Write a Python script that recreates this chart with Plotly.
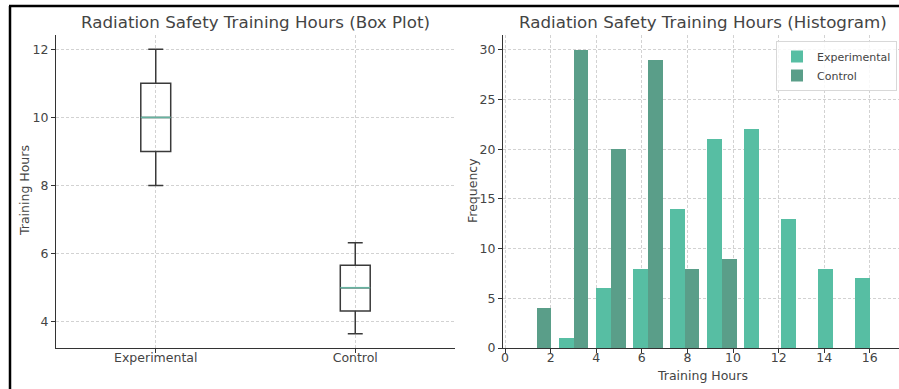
import plotly.graph_objects as go

# ---------------- data ----------------
groups = ["Experimental", "Control"]
box_lower = [8.0, 3.65]
box_q1 = [9.0, 4.32]
box_median = [10.0, 5.0]
box_q3 = [11.0, 5.66]
box_upper = [12.0, 6.32]

bin_edges = [0.57, 2.20, 3.82, 5.45, 7.07, 8.69, 10.32, 11.94, 13.56, 15.19, 16.81]
exp_counts = [0, 1, 6, 8, 14, 21, 22, 13, 8, 7]
ctrl_counts = [4, 30, 20, 29, 8, 9, 0, 0, 0, 0]

box_ticks = [4, 6, 8, 10, 12]
hist_xticks = [0, 2, 4, 6, 8, 10, 12, 14, 16]
hist_yticks = [0, 5, 10, 15, 20, 25, 30]

# ---------------- layout helpers ----------------
W, H = 899, 389
def px(x):
    return x / W
def py(y):
    return 1 - y / H

FONT = "DejaVu Sans"
TXT = "#444444"
AX = "#333333"
GRID = "#d2d2d2"
EXP_C = "#57bea3"
CTRL_C = "#5a9e89"
MED_C = "#66b3a0"
BOX_LINE = "#3a3a3a"

fig = go.Figure()

# ---- box plot (precomputed statistics) ----
positions = [1, 2]
for i, g in enumerate(groups):
    fig.add_trace(go.Box(
        x=[positions[i]], q1=[box_q1[i]], median=[box_median[i]], q3=[box_q3[i]],
        lowerfence=[box_lower[i]], upperfence=[box_upper[i]],
        width=0.15, whiskerwidth=0.5,
        line=dict(color=BOX_LINE, width=1.5), fillcolor="rgba(255,255,255,0)",
        boxpoints=False, showlegend=False, name=g, hoverinfo="skip",
        xaxis="x", yaxis="y"))
    fig.add_trace(go.Scatter(
        x=[positions[i] - 0.075, positions[i] + 0.075],
        y=[box_median[i], box_median[i]], mode="lines",
        line=dict(color=MED_C, width=1.6), showlegend=False, hoverinfo="skip",
        xaxis="x", yaxis="y"))

# ---- histogram (side-by-side bars within shared bins) ----
lefts = bin_edges[:-1]
widths = [bin_edges[k + 1] - bin_edges[k] for k in range(len(lefts))]
exp_x = [lefts[k] + 0.3 * widths[k] for k in range(len(lefts))]
ctrl_x = [lefts[k] + 0.7 * widths[k] for k in range(len(lefts))]
bar_w = [0.4 * w for w in widths]

fig.add_trace(go.Bar(x=exp_x, y=exp_counts, width=bar_w, name="Experimental",
                     marker=dict(color=EXP_C, line=dict(width=0)),
                     xaxis="x2", yaxis="y2"))
fig.add_trace(go.Bar(x=ctrl_x, y=ctrl_counts, width=bar_w, name="Control",
                     marker=dict(color=CTRL_C, line=dict(width=0)),
                     xaxis="x2", yaxis="y2"))

axis_common = dict(
    showline=True, linecolor=AX, linewidth=1.2, ticks="outside", ticklen=4,
    tickcolor=AX, tickwidth=1, showgrid=True, gridcolor=GRID, gridwidth=0.7,
    griddash="3px,2px", zeroline=False, tickfont=dict(family=FONT, size=12.5, color=TXT),
    mirror=False, automargin=False)

def label(text, x, y, size, angle=0):
    return dict(text=text, x=px(x), y=py(y), xref="paper", yref="paper", showarrow=False,
                xanchor="center", yanchor="middle", textangle=angle,
                font=dict(family=FONT, size=size, color=TXT))

fig.update_layout(
    width=W, height=H, margin=dict(l=0, r=0, t=0, b=0, autoexpand=False),
    paper_bgcolor="white", plot_bgcolor="white",
    font=dict(family=FONT, color=TXT),
    barmode="overlay", bargap=0,
    xaxis=dict(axis_common, domain=[px(56), px(455)], range=[0.5, 2.5],
               tickvals=positions, ticktext=groups, anchor="y", ticklabelstandoff=-6),
    yaxis=dict(axis_common, domain=[py(348), py(35)], range=[3.23, 12.42],
               tickvals=box_ticks, anchor="x"),
    xaxis2=dict(axis_common, domain=[px(503), 1], range=[-0.09, 17.28],
                tickvals=hist_xticks, anchor="y2", ticklabelstandoff=-6),
    yaxis2=dict(axis_common, domain=[py(348), py(35)], range=[0, 31.5],
                tickvals=hist_yticks, anchor="x2"),
    legend=dict(x=px(897), y=py(41), xanchor="right", yanchor="top",
                bgcolor="rgba(255,255,255,0.85)", bordercolor="#d8d8d8", borderwidth=1,
                itemwidth=30,
                font=dict(family=FONT, size=11, color=TXT), tracegroupgap=0),
    annotations=[
        label("Radiation Safety Training Hours (Box Plot)", 255.5, 22, 16.7),
        label("Radiation Safety Training Hours (Histogram)", 702.5, 22, 16.7),
        label("Training Hours", 24, 191, 12.5, -90),
        label("Frequency", 472, 191, 12.5, -90),
        label("Training Hours", 702, 375, 12.5),
    ],
    shapes=[
        dict(type="line", xref="paper", yref="paper", x0=px(10), x1=px(10), y0=0, y1=py(6),
             line=dict(color="black", width=2.5)),
        dict(type="line", xref="paper", yref="paper", x0=px(9), x1=1, y0=py(6), y1=py(6),
             line=dict(color="black", width=2.5)),
    ],
)

fig.write_html(
    "out.html",
    config={"displayModeBar": False},
    post_script=("document.body.style.margin='0px';"
                 "document.body.style.overflow='hidden';"
                 "document.documentElement.style.overflow='hidden';"),
)
